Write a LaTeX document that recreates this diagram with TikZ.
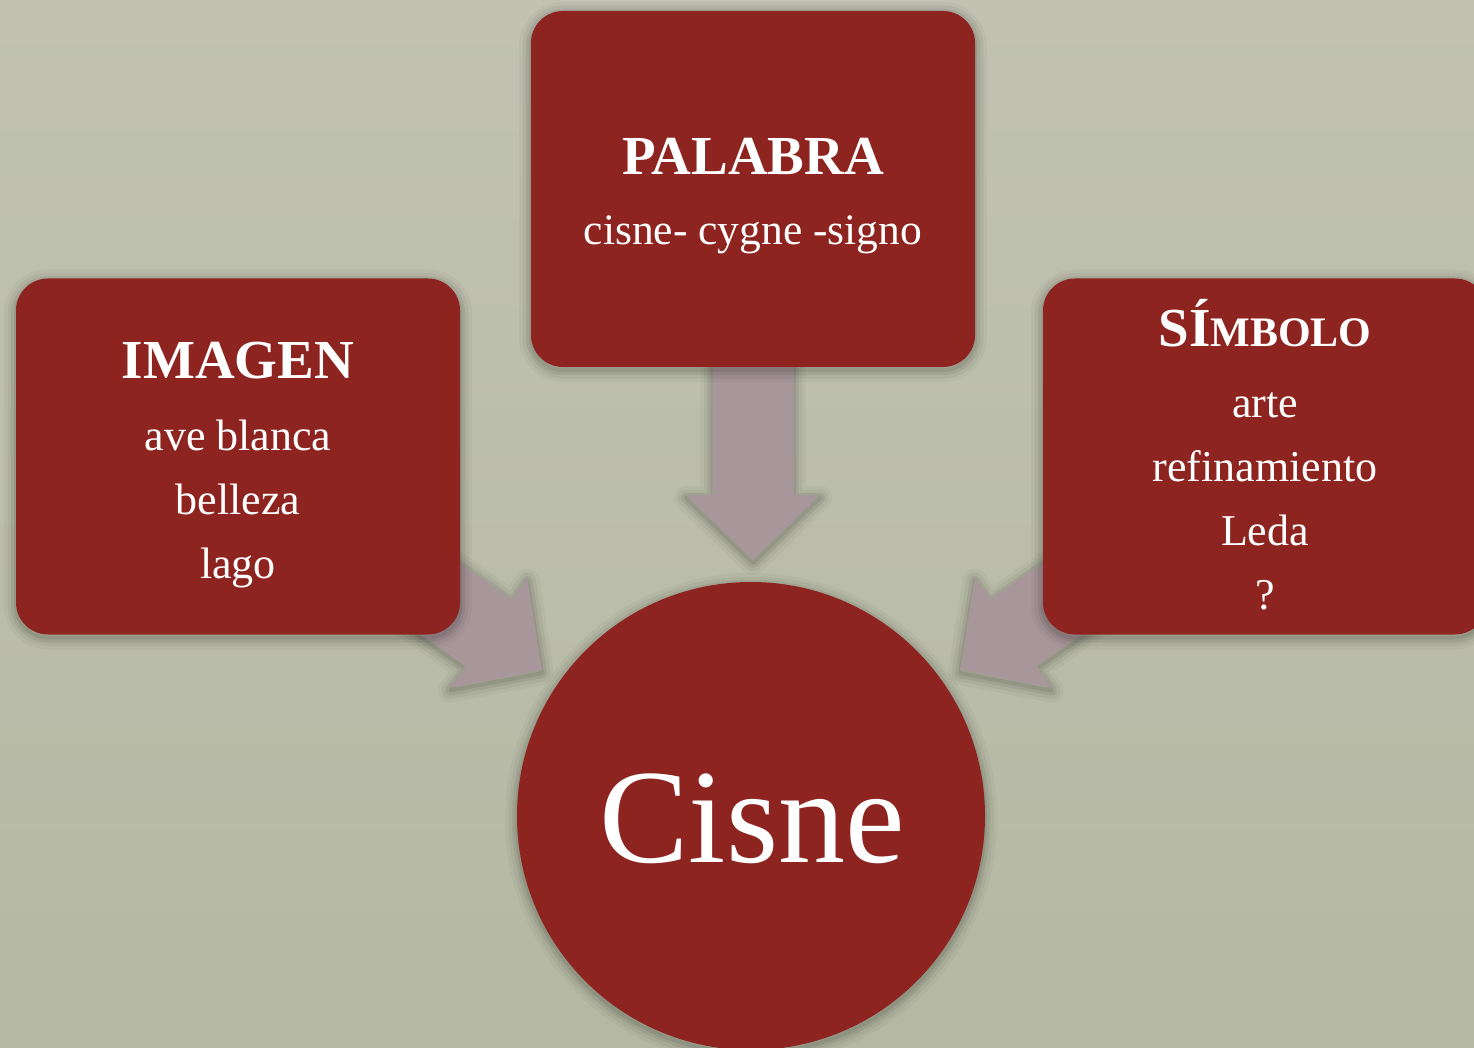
\documentclass[tikz,border=0pt]{standalone}
\usepackage{fontspec}
\setmainfont{Liberation Serif}
\usetikzlibrary{calc}
\definecolor{bgtop}{HTML}{C1C2B2}
\definecolor{bgbot}{HTML}{B5B9A3}
\definecolor{boxred}{HTML}{8E2420}
\definecolor{arrowc}{HTML}{A8979A}
\pgfdeclarelayer{bglayer}
\pgfdeclarelayer{arrowlayer}
\pgfsetlayers{bglayer,arrowlayer,main}
\tikzset{
  shd/.style={
    preaction={draw=black, line join=round, line width=24pt, draw opacity=0.03, transform canvas={yshift=-3pt}},
    preaction={draw=black, line join=round, line width=17pt, draw opacity=0.045, transform canvas={yshift=-3pt}},
    preaction={draw=black, line join=round, line width=10pt, draw opacity=0.065, transform canvas={yshift=-3pt}},
    preaction={draw=black, line join=round, line width=4pt, draw opacity=0.08, transform canvas={yshift=-3pt}}},
  redbox/.style={draw=none, fill=boxred, rounded corners=32pt, minimum width=444pt, minimum height=356pt, inner sep=0pt, shd},
  redcircle/.style={circle, draw=none, fill=boxred, minimum size=468pt, inner sep=0pt, shd},
  title/.style={text=white, font=\fontsize{55}{55}\selectfont\bfseries, anchor=base, inner sep=0pt},
  body/.style={text=white, font=\fontsize{44}{44}\selectfont, anchor=base, inner sep=0pt},
  big/.style={text=white, font=\fontsize{134}{134}\selectfont, anchor=base, inner sep=0pt},
  blockarrow/.style={fill=arrowc, draw=none, shd},
}
\newcommand\blockarr[2]{%
  \coordinate (h) at ($(#2)!65pt!(#1)$);
  \fill[blockarrow] ($(#1)!40.5pt!90:(#2)$) -- ($(h)!40.5pt!90:(#2)$) -- ($(h)!67pt!90:(#2)$)
    -- (#2) -- ($(h)!67pt!-90:(#2)$) -- ($(h)!40.5pt!-90:(#2)$) -- ($(#1)!40.5pt!-90:(#2)$) -- cycle;
}
\begin{document}
\begin{tikzpicture}[x=1pt,y=-1pt]
\useasboundingbox (0,0) rectangle (1474,1048);
\begin{pgfonlayer}{bglayer}
  \shade[top color=bgtop, bottom color=bgbot] (0,0) rectangle (1474,1048);
\end{pgfonlayer}

% boxes and circle
\node[redbox] (pal) at (753,189) {};
\node[redbox] (img) at (238,456.5) {};
\node[redbox] (sim) at (1265,456.5) {};
\node[redcircle] (cisne) at (751,816) {};

% arrow tips
\coordinate (tipT) at (753,560);
\coordinate (tipL) at (542,670);
\coordinate (tipR) at (960,670);

\begin{pgfonlayer}{arrowlayer}
  \blockarr{pal}{tipT}
  \blockarr{img}{tipL}
  \blockarr{sim}{tipR}
\end{pgfonlayer}

% texts
\node[title] (palT) at (753,175) {PALABRA};
\node[body, font=\fontsize{43.5}{43.5}\selectfont] (palB) at (753,245) {cisne- cygne -signo};

\node[title] (imgT) at (238,378) {IMAGEN};
\node[body] (img1) at (238,450) {ave blanca};
\node[body] (img2) at (238,514) {belleza};
\node[body] (img3) at (238,578) {lago};

\node[title] (simT) at (1265,346) {SÍ{\fontsize{42}{42}\selectfont MBOLO}};
\node[body] (sim1) at (1265,417) {arte};
\node[body] (sim2) at (1265,481) {refinamiento};
\node[body] (sim3) at (1265,545) {Leda};
\node[body] (sim4) at (1265,609) {?};

\node[big] (cisneT) at (752,862) {Cisne};
\end{tikzpicture}
\end{document}
